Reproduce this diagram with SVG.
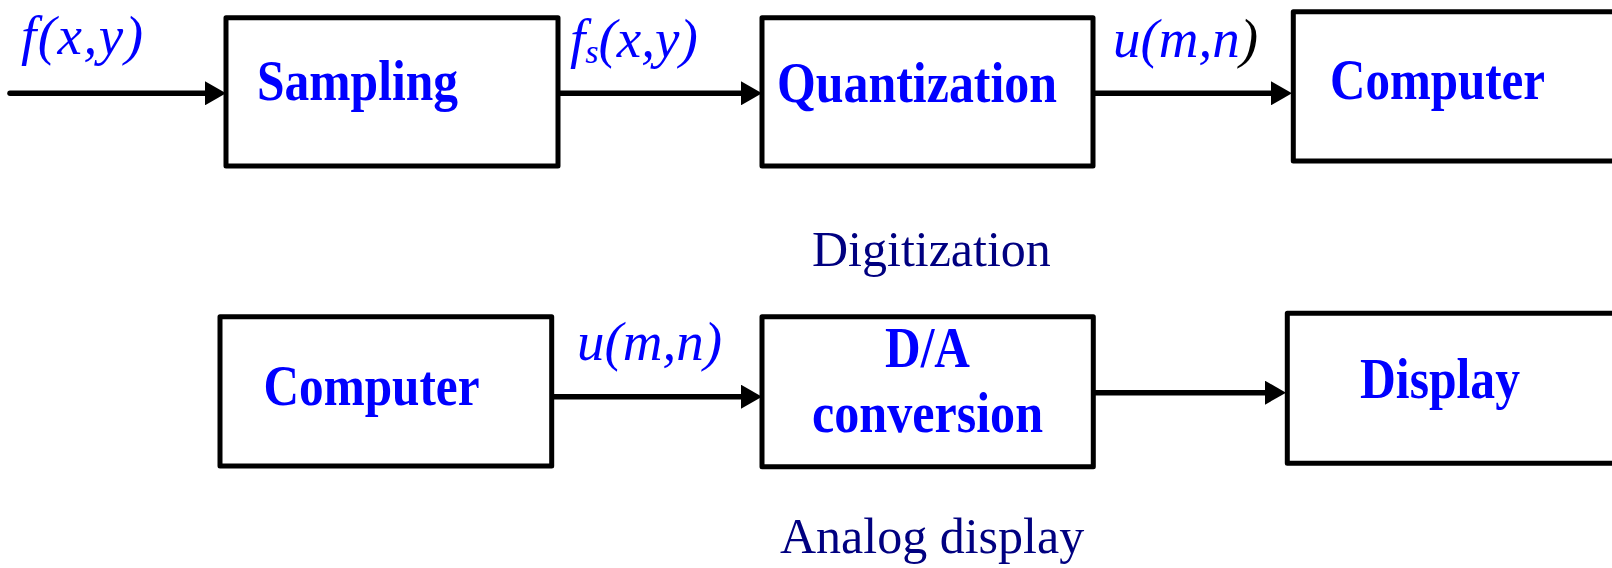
<svg xmlns="http://www.w3.org/2000/svg" width="1612" height="568" viewBox="0 0 1612 568">
  <style>
    .box { fill: #ffffff; stroke: #000000; stroke-width: 5; stroke-linejoin: round; }
    .lbl { font-family: "Liberation Serif", "Times New Roman", serif; font-weight: bold; font-size: 56px; fill: #0000ff; }
    .math { font-family: "Liberation Serif", "Times New Roman", serif; font-style: italic; font-size: 55px; fill: #0000ff; }
    .cap { font-family: "Liberation Serif", "Times New Roman", serif; font-size: 50px; fill: #000080; }
    .wire { stroke: #000000; stroke-width: 5.5; fill: none; stroke-linecap: round; }
  </style>
  <defs>
    <marker id="arr" markerUnits="userSpaceOnUse" markerWidth="21" markerHeight="24" refX="0" refY="12" orient="auto">
      <path d="M0,0 L21,12 L0,24 Z" fill="#000000"/>
    </marker>
  </defs>
  <rect width="1612" height="568" fill="#ffffff"/>

  <g id="connectors">
    <line class="wire" x1="10" y1="93.3" x2="205" y2="93.3" marker-end="url(#arr)"/>
    <line class="wire" x1="558" y1="93.3" x2="741" y2="93.3" marker-end="url(#arr)"/>
    <line class="wire" x1="1093" y1="93.3" x2="1271" y2="93.3" marker-end="url(#arr)"/>
    <line class="wire" x1="552" y1="396.7" x2="741" y2="396.7" marker-end="url(#arr)"/>
    <line class="wire" x1="1093" y1="392.7" x2="1265" y2="392.7" marker-end="url(#arr)"/>
  </g>

  <g id="label-fxy">
    <text class="math" x="21" y="54" font-size="58" textLength="122" lengthAdjust="spacing">f(x,y)</text>
  </g>
  <g id="label-fsxy">
    <text class="math" x="570" y="57" font-size="53">f<tspan font-size="34" dy="6">s</tspan><tspan dy="-6">(x,y)</tspan></text>
  </g>
  <g id="label-umn-top">
    <text class="math" x="1113" y="56.7">u(m,n<tspan fill="#000000">)</tspan></text>
  </g>
  <g id="label-umn-bottom">
    <text class="math" x="577" y="360">u(m,n)</text>
  </g>

  <g id="node-sampling">
    <rect class="box" x="226" y="17.7" width="332" height="148.3"/>
    <text class="lbl" x="257" y="99.5" textLength="201" lengthAdjust="spacingAndGlyphs">Sampling</text>
  </g>
  <g id="node-quantization">
    <rect class="box" x="762" y="17.7" width="331" height="148.3"/>
    <text class="lbl" x="777" y="101.5" textLength="280" lengthAdjust="spacingAndGlyphs">Quantization</text>
  </g>
  <g id="node-computer-top">
    <rect class="box" x="1293.3" y="11.7" width="330" height="149.3"/>
    <text class="lbl" x="1330" y="99.3" textLength="215" lengthAdjust="spacingAndGlyphs">Computer</text>
  </g>

  <g id="caption-digitization">
    <text class="cap" x="812" y="266">Digitization</text>
  </g>

  <g id="node-computer-bottom">
    <rect class="box" x="220" y="316.7" width="331.7" height="149.3"/>
    <text class="lbl" x="263.5" y="405" textLength="216" lengthAdjust="spacingAndGlyphs">Computer</text>
  </g>
  <g id="node-da">
    <rect class="box" x="762" y="316.7" width="331.3" height="150"/>
    <text class="lbl" x="885" y="366.7" font-size="53" textLength="85" lengthAdjust="spacingAndGlyphs">D/A</text>
    <text class="lbl" x="812" y="431.7" textLength="231" lengthAdjust="spacingAndGlyphs">conversion</text>
  </g>
  <g id="node-display">
    <rect class="box" x="1287.3" y="313.3" width="336" height="150"/>
    <text class="lbl" x="1360" y="397.7" textLength="160" lengthAdjust="spacingAndGlyphs">Display</text>
  </g>

  <g id="caption-analog">
    <text class="cap" x="780" y="553">Analog display</text>
  </g>
</svg>
